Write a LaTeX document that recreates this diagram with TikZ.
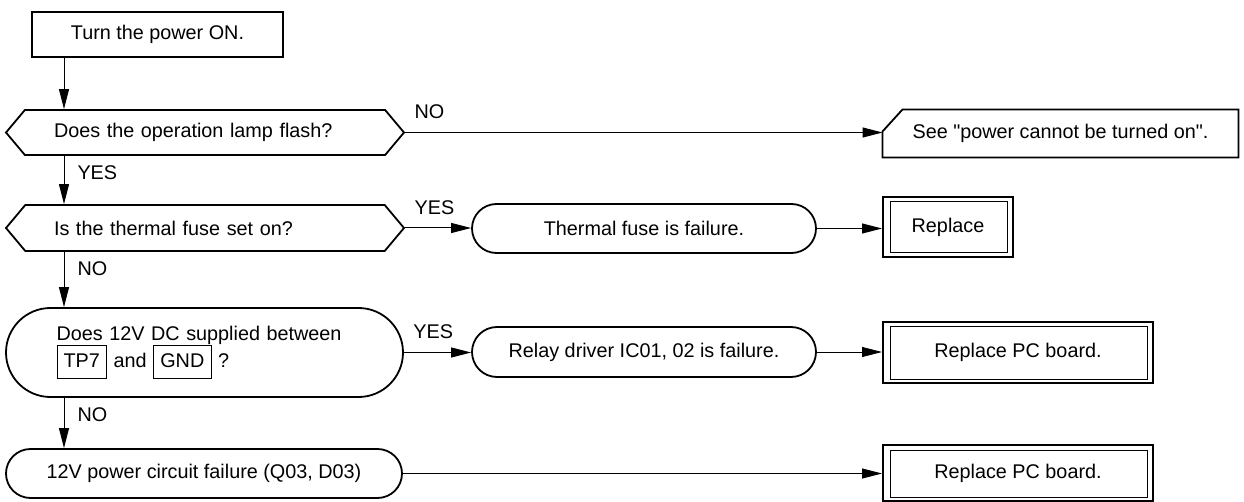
\documentclass[tikz,border=0pt]{standalone}
\usepackage{fontspec}
\setmainfont{Liberation Sans}
\usepackage{tikz}
\usetikzlibrary{arrows.meta}
\usetikzlibrary{shapes.misc}
\usetikzlibrary{shapes.symbols}
\newcommand{\pinbox}[1]{{\setlength{\fboxsep}{3pt}\setlength{\fboxrule}{0.8pt}\fbox{\strut\,#1\,}}}

\begin{document}
\begin{tikzpicture}[x=1pt, y=-1pt, ->, >={Triangle[length=20pt,width=10pt]}, line width=1pt, font=\fontsize{19.8}{27}\selectfont] % 1pt = 1px
  \tikzstyle{act}=[rectangle, draw, line width=1.8pt]
  \tikzstyle{ask}=[signal, signal to=west and east, signal pointer angle=100, draw, line width=1.8pt, align=left, text width=302pt, minimum width=398pt, minimum height=45pt, inner xsep=0pt]
  \tikzstyle{term}=[rounded rectangle, draw, line width=1.8pt, minimum height=49pt, inner xsep=0pt]
  \tikzstyle{repl}=[rectangle, draw, line width=2pt, minimum height=60pt]
  \tikzstyle{down}=[pos=0, anchor=north west, inner sep=0pt, xshift=13pt, yshift=-9.5pt]
  \tikzstyle{side}=[pos=0, anchor=south west, inner sep=0pt, xshift=9pt, yshift=13pt]

  \useasboundingbox (0,0) rectangle (1244,502);

	\node[act, minimum width=251pt, minimum height=45pt] (Start) at (157.5,34.5) {Turn the power ON.};
	\node[ask]                      (Q1) at (205,132.5) {Does the operation lamp flash?};
	\node[minimum width=355pt, minimum height=47pt] (See) at (1060.5,133.5) {See \textquotedbl power cannot be turned on\textquotedbl.};
	\node[ask, minimum height=46pt] (Q2) at (205,228) {Is the thermal fuse set on?};
	\node[term, minimum width=344pt] (F1) at (644,228.5) {Thermal fuse is failure.};
	\node[repl, minimum width=130pt] (R1) at (948,227) {Replace};
	\node[term, minimum width=397pt, minimum height=89pt, align=left, text width=296pt] (Q3) at (204.5,352.5) {Does 12V DC supplied between\\\pinbox{TP7} and \pinbox{GND} ?};
	\node[term, minimum width=344pt, minimum height=50pt] (F2) at (644,352) {Relay driver IC01, 02 is failure.};
	\node[repl, minimum width=270pt, minimum height=61pt] (R2) at (1018,352.5) {Replace PC board.};
	\node[term, minimum width=396pt] (F3) at (204,473.5) {12V power circuit failure (Q03, D03)};
	\node[repl, minimum width=270pt, minimum height=56pt] (R3) at (1018,473) {Replace PC board.};

	% outline of the reference box, cut corner top left
	\draw[-, line width=1.8pt] (See.south west) -- ([yshift=-22pt]See.north west) -- ([xshift=20pt]See.north west)
		-- (See.north east) -- (See.south east) -- cycle;

	% inner frame of the replace boxes
	\foreach \b in {R1,R2,R3}
		\draw[-] ([xshift=8pt,yshift=-6pt]\b.north west) rectangle ([xshift=-7pt,yshift=5pt]\b.south east);

	\coordinate (spine) at (64,0);

	\path
		(Start.south -| spine) edge (Q1.north -| spine)
		(Q1.south -| spine) edge node[down] {YES} (Q2.north -| spine)
		(Q2.south -| spine) edge node[down] {NO} (Q3.north -| spine)
		(Q3.south -| spine) edge node[down] {NO} (F3.north -| spine)
		(Q1.east) edge node[side] {NO} (Q1.east -| See.west)
		(Q2.east) edge node[side] {YES} (Q2.east -| F1.west)
		(Q3.east) edge node[side] {YES} (Q3.east -| F2.west)
		(F1.east) edge (F1.east -| R1.west)
		(F2.east) edge (F2.east -| R2.west)
		(F3.east) edge (F3.east -| R3.west)
		;

\end{tikzpicture}
\end{document}
